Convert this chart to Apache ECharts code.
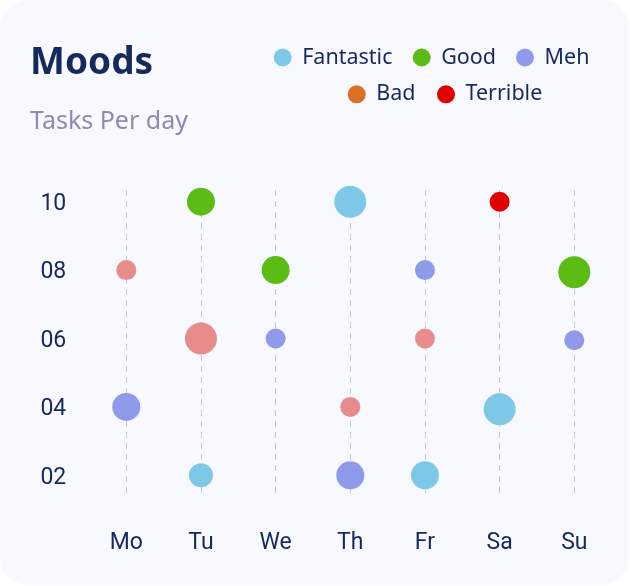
<!DOCTYPE html>
<html>
<head>
<meta charset="utf-8">
<script src="https://cdn.jsdelivr.net/npm/echarts@6/dist/echarts.min.js"></script>
<style>
  html, body { margin: 0; padding: 0; background: #ffffff; }
  #card { position: absolute; left: 0; top: 0; width: 629px; height: 585px; background: #f7f9fe; border-radius: 28px; }
  #chart { position: absolute; left: 0; top: 0; width: 630px; height: 586px; }
</style>
</head>
<body>
<div id="card"></div>
<div id="chart"></div>
<script>
// ---- data ----
const days = ['Mo', 'Tu', 'We', 'Th', 'Fr', 'Sa', 'Su'];
const moods = ['Fantastic', 'Good', 'Meh', 'Bad', 'Terrible'];
const yTicks = [2, 4, 6, 8, 10];
// [day, tasks, intensity(1-4)]
const fantastic = [['Tu', 2, 2], ['Th', 10, 4], ['Fr', 2, 3], ['Sa', 3.93, 4]];
const good = [['Tu', 10, 3], ['We', 8, 3], ['Su', 7.94, 4]];
const meh = [['Mo', 4, 3], ['We', 6, 1], ['Th', 2, 3], ['Fr', 8, 1], ['Su', 5.95, 1]];
const bad = [['Mo', 8, 1], ['Tu', 6, 4], ['Th', 4, 1], ['Fr', 6, 1]];
const terrible = [['Sa', 10, 1]];

// ---- style ----
const NAVY = '#15295c';
const COLORS = {
  Fantastic: '#7ec8e7',
  Good: '#5bbd13',
  Meh: '#8f9aeb',
  Bad: '#dc7022',
  Terrible: '#e20000'
};
const BAD_POINT = '#e88b8b';
// legend item placement (layout only)
const LEGEND_POS = {
  Fantastic: [273.7, 46.5],
  Good: [412.7, 46.5],
  Meh: [516, 46.5],
  Bad: [347.7, 83.3],
  Terrible: [437, 83.3]
};

const chart = echarts.init(document.getElementById('chart'), null, { renderer: 'canvas' });

function sizeOf(v) { return 16 + 4 * v[2]; }

function mkSeries(name, arr, pointColor) {
  return {
    name: name,
    type: 'scatter',
    clip: false,
    symbol: 'circle',
    symbolSize: sizeOf,
    itemStyle: { color: COLORS[name], opacity: 1 },
    emphasis: { disabled: true },
    data: arr.map(d => pointColor ? { value: d, itemStyle: { color: pointColor } } : { value: d })
  };
}

const legends = moods.map(m => ({
  orient: 'horizontal',
  icon: 'circle',
  itemWidth: 29,
  itemHeight: 18,
  padding: 0,
  selectedMode: false,
  left: LEGEND_POS[m][0],
  top: LEGEND_POS[m][1],
  data: [m],
  textStyle: { fontFamily: 'Noto Sans', fontSize: 21.5, color: NAVY }
}));

chart.setOption({
  animation: false,
  backgroundColor: 'transparent',
  title: [
    { text: 'Moods', left: 30, top: 45, padding: 0,
      textStyle: { fontFamily: 'Noto Sans', fontWeight: 'bold', fontSize: 37, color: NAVY } },
    { text: 'Tasks Per day', left: 30, top: 109, padding: 0,
      textStyle: { fontFamily: 'Noto Sans', fontWeight: 'normal', fontSize: 25, color: '#8a8cb0' } }
  ],
  legend: legends,
  grid: { left: 126.3, right: 55.7, top: 190, bottom: 91, containLabel: false },
  xAxis: {
    type: 'category',
    data: days,
    boundaryGap: false,
    axisLine: { show: false },
    axisTick: { show: false },
    axisLabel: { fontFamily: 'Roboto', fontSize: 23, color: NAVY, margin: 37 },
    splitLine: { show: true, lineStyle: { type: [6, 5], color: '#c6c9da', width: 1 } }
  },
  yAxis: {
    type: 'value',
    min: 1.424,
    max: 10.342,
    axisLine: { show: false },
    axisTick: { show: false },
    splitLine: { show: false },
    axisLabel: {
      customValues: yTicks,
      formatter: v => '{t|' + String(v).padStart(2, '0') + '}',
      margin: 60,
      rich: {
        t: { fontFamily: 'Roboto', fontSize: 23, color: NAVY, padding: [5, 0, 0, 0] }
      }
    }
  },
  series: [
    mkSeries('Fantastic', fantastic),
    mkSeries('Good', good),
    mkSeries('Meh', meh),
    mkSeries('Bad', bad, BAD_POINT),
    mkSeries('Terrible', terrible)
  ]
});
</script>
</body>
</html>
